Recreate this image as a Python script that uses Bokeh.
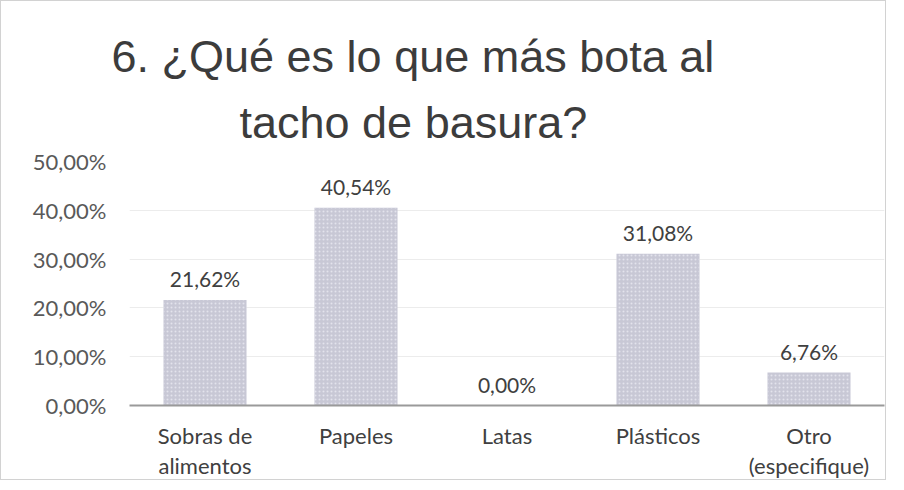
from bokeh.plotting import figure
from bokeh.models import Title, FixedTicker, ColumnDataSource, Range1d, LinearAxis
from bokeh.core.properties import value
from bokeh.embed import file_html
from bokeh.resources import INLINE

categories = ["Sobras de alimentos", "Papeles", "Latas", "Plásticos", "Otro (especifique)"]
label_line1 = ["Sobras de", "Papeles", "Latas", "Plásticos", "Otro"]
label_line2 = ["alimentos", "", "", "", "(especifique)"]
values = [21.62, 40.54, 0.00, 31.08, 6.76]
value_labels = ["21,62%", "40,54%", "0,00%", "31,08%", "6,76%"]
y_ticks = [0, 10, 20, 30, 40, 50]
y_tick_labels = ["0,00%", "10,00%", "20,00%", "30,00%", "40,00%", "50,00%"]
title_lines = ["6. ¿Qué es lo que más bota al", "tacho de basura?"]

idx = list(range(len(categories)))
src = ColumnDataSource(dict(x=idx, cat=categories, val=values, lab=value_labels))

p = figure(width=886, height=480, x_range=Range1d(-0.5, len(categories) - 0.5), y_range=Range1d(0, 50),
           output_backend="svg", toolbar_location=None, x_axis_location=None,
           min_border_left=128, min_border_right=3, min_border_bottom=76, min_border_top=160)
p.styles = {"border": "1px solid #d2d2d2"}
p.outline_line_color = None
p.background_fill_color = "white"
p.border_fill_color = "white"

p.vbar(x="x", top="val", width=0.55, source=src, fill_color="#c8c8d5", line_color=None,
       hatch_pattern=".", hatch_color="#eaeaf1", hatch_scale=4, hatch_alpha=0.8)

p.text(x="x", y="val", text="lab", source=src, text_align="center", text_baseline="alphabetic",
       y_offset=-21, text_font=value("Lato"), text_font_size="21px", text_color="#404040")

title_style = dict(align="left", text_font="Liberation Sans", text_font_size="45px",
                   text_font_style="normal", text_color="#3c3c3c")
t2 = Title(text=title_lines[1], offset=110, standoff=27, **title_style)
t1 = Title(text=title_lines[0], offset=-18, standoff=0, text_line_height=0.7, **title_style)
spacer = Title(text=" ", text_font_size="8px", standoff=0)
p.add_layout(t2, "above")
p.add_layout(t1, "above")
p.add_layout(spacer, "above")

p.yaxis.ticker = FixedTicker(ticks=y_ticks)
p.yaxis.major_label_overrides = {t: l for t, l in zip(y_ticks, y_tick_labels)}
p.yaxis.axis_line_color = None
p.yaxis.major_tick_line_color = None
p.yaxis.minor_tick_line_color = None
p.yaxis.major_label_text_font = "Lato"
p.yaxis.major_label_text_font_size = "22px"
p.yaxis.major_label_text_color = "#595959"
p.yaxis.major_label_standoff = 17


def make_x_axis(lines, line_color, standoff):
    ax = LinearAxis(ticker=FixedTicker(ticks=idx), axis_line_color=line_color, axis_line_width=2,
                    major_tick_line_color=None, minor_tick_line_color=None,
                    major_tick_out=0, minor_tick_out=0, major_label_standoff=standoff,
                    major_label_text_font="Lato", major_label_text_font_size="22px",
                    major_label_text_color="#404040")
    ax.major_label_overrides = {i: l if l else " " for i, l in zip(idx, lines)}
    return ax


p.add_layout(make_x_axis(label_line1, "#9a9a9a", 16), "below")
p.add_layout(make_x_axis(label_line2, None, 0), "below")

p.xgrid.grid_line_color = None
p.ygrid.grid_line_color = "#ececec"

open("out.html", "w").write(file_html(p, INLINE))
